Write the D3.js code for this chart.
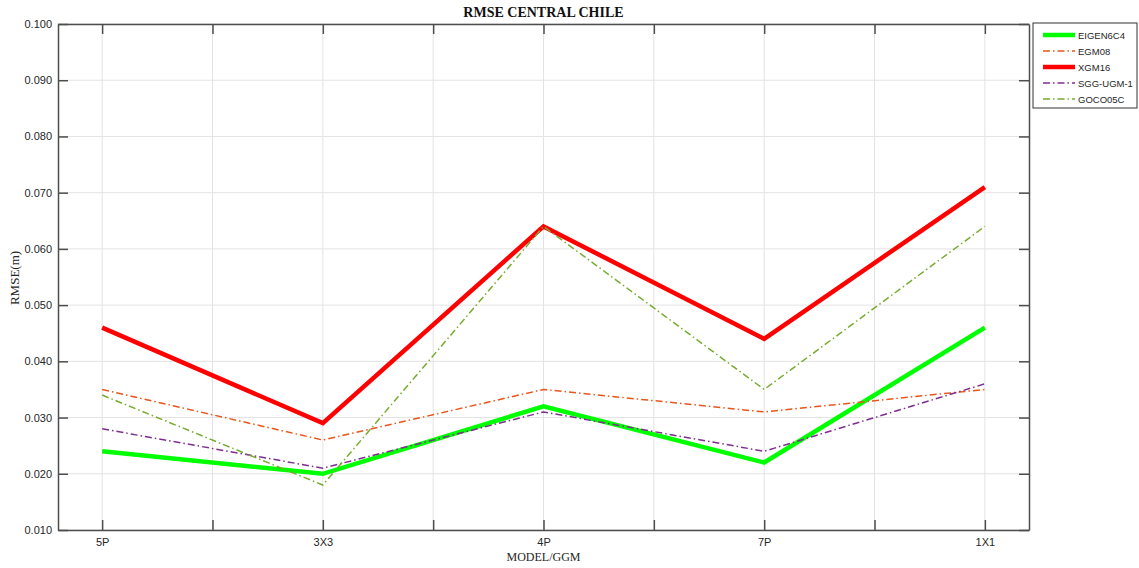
<!DOCTYPE html>
<html>
<head>
<meta charset="utf-8">
<script src="https://cdn.jsdelivr.net/npm/d3@7"></script>
<style>
  html, body { margin: 0; padding: 0; background: #fff; }
  svg { display: block; }
</style>
</head>
<body>
<svg id="chart" width="1139" height="568"></svg>
<script>
// RMSE per model grid for each global gravity model
const categories = ["5P", "3X3", "4P", "7P", "1X1"];
const eigen6c4 = [0.024, 0.020, 0.032, 0.022, 0.046];
const egm08    = [0.035, 0.026, 0.035, 0.031, 0.035];
const xgm16    = [0.046, 0.029, 0.064, 0.044, 0.071];
const sggUgm1  = [0.028, 0.021, 0.031, 0.024, 0.036];
const goco05c  = [0.034, 0.018, 0.064, 0.035, 0.064];
const yTicks = [0.010, 0.020, 0.030, 0.040, 0.050, 0.060, 0.070, 0.080, 0.090, 0.100];

const series = [
  { name: "EIGEN6C4",  values: eigen6c4, color: "#00ff00", width: 4.5, dash: null },
  { name: "EGM08",     values: egm08,    color: "#e8561c", width: 1.5, dash: "7,3,1.5,3" },
  { name: "XGM16",     values: xgm16,    color: "#ff0000", width: 4.5, dash: null },
  { name: "SGG-UGM-1", values: sggUgm1,  color: "#7e2f8e", width: 1.5, dash: "7,3,1.5,3" },
  { name: "GOCO05C",   values: goco05c,  color: "#77ac30", width: 1.5, dash: "7,3,1.5,3" }
];

const svg = d3.select("#chart");
const m = { left: 58, right: 1029, top: 24, bottom: 530 };

const x = d3.scaleLinear().domain([0.8, 5.2]).range([m.left, m.right]);
const y = d3.scaleLinear().domain([0.010, 0.100]).range([m.bottom, m.top]);

const axisColor = "#4d4d4d";
const gridColor = "#e3e3e3";
const tickFont = "Liberation Sans, Arial, sans-serif";

// x ticks every half step, labels only on the categories
const xTickVals = d3.range(1, 5.01, 0.5);

// grid
const grid = svg.append("g");
grid.selectAll("line.gx").data(xTickVals).join("line")
  .attr("x1", d => x(d)).attr("x2", d => x(d))
  .attr("y1", m.top).attr("y2", m.bottom)
  .attr("stroke", gridColor).attr("stroke-width", 1);
grid.selectAll("line.gy").data(yTicks).join("line")
  .attr("x1", m.left).attr("x2", m.right)
  .attr("y1", d => y(d)).attr("y2", d => y(d))
  .attr("stroke", gridColor).attr("stroke-width", 1);

// data lines
const line = d3.line().x((d, i) => x(i + 1)).y(d => y(d));
svg.append("g").selectAll("path").data(series).join("path")
  .attr("d", d => line(d.values))
  .attr("fill", "none")
  .attr("stroke", d => d.color)
  .attr("stroke-width", d => d.width)
  .attr("stroke-dasharray", d => d.dash)
  .attr("stroke-linejoin", "miter");

// axes (ticks pointing inward, mirrored on opposite sides)
const tickLen = 10;
const axBottom = d3.axisBottom(x).tickValues(xTickVals)
  .tickSize(-tickLen).tickSizeOuter(0).tickPadding(8)
  .tickFormat(d => Number.isInteger(d) ? categories[d - 1] : "");
const axTop = d3.axisTop(x).tickValues(xTickVals)
  .tickSize(-tickLen).tickSizeOuter(0).tickFormat("");
const axLeft = d3.axisLeft(y).tickValues(yTicks)
  .tickSize(-tickLen).tickSizeOuter(0).tickPadding(6)
  .tickFormat(d3.format(".3f"));
const axRight = d3.axisRight(y).tickValues(yTicks)
  .tickSize(-tickLen).tickSizeOuter(0).tickFormat("");

function styleAxis(g) {
  g.select(".domain").attr("stroke", axisColor).attr("stroke-width", 1.5);
  g.selectAll(".tick line").attr("stroke", axisColor).attr("stroke-width", 1.5);
  g.selectAll(".tick text").attr("fill", "#262626")
    .style("font-family", tickFont).style("font-size", "11px");
}
svg.append("g").attr("transform", `translate(0,${m.bottom})`).call(axBottom).call(styleAxis);
svg.append("g").attr("transform", `translate(0,${m.top})`).call(axTop).call(styleAxis);
svg.append("g").attr("transform", `translate(${m.left},0)`).call(axLeft).call(styleAxis);
svg.append("g").attr("transform", `translate(${m.right},0)`).call(axRight).call(styleAxis);

// title and axis labels
svg.append("text")
  .attr("x", (m.left + m.right) / 2).attr("y", 17)
  .attr("text-anchor", "middle")
  .style("font-family", "Liberation Serif, DejaVu Serif, serif")
  .style("font-weight", "bold").style("font-size", "14px")
  .attr("fill", "#111")
  .text("RMSE CENTRAL CHILE");

svg.append("text")
  .attr("x", (m.left + m.right) / 2).attr("y", 561)
  .attr("text-anchor", "middle")
  .style("font-family", "Liberation Serif, DejaVu Serif, serif")
  .style("font-size", "12px").attr("fill", "#262626")
  .text("MODEL/GGM");

svg.append("text")
  .attr("transform", `translate(19,278) rotate(-90)`)
  .attr("text-anchor", "middle")
  .style("font-family", "Liberation Serif, DejaVu Serif, serif")
  .style("font-size", "13px").attr("fill", "#262626")
  .text("RMSE(m)");

// legend
const lg = svg.append("g").attr("transform", "translate(1033,23)");
lg.append("rect").attr("x", 0).attr("y", 0).attr("width", 104).attr("height", 85)
  .attr("fill", "#fff").attr("stroke", "#333").attr("stroke-width", 1);
const items = lg.selectAll("g.item").data(series).join("g")
  .attr("transform", (d, i) => `translate(0,${12 + i * 16})`);
items.append("line")
  .attr("x1", 10).attr("x2", 42).attr("y1", 0).attr("y2", 0)
  .attr("stroke", d => d.color)
  .attr("stroke-width", d => d.width)
  .attr("stroke-dasharray", d => d.dash);
items.append("text")
  .attr("x", 45).attr("y", 3.5)
  .style("font-family", tickFont).style("font-size", "9.5px")
  .attr("fill", "#262626")
  .text(d => d.name);
</script>
</body>
</html>
